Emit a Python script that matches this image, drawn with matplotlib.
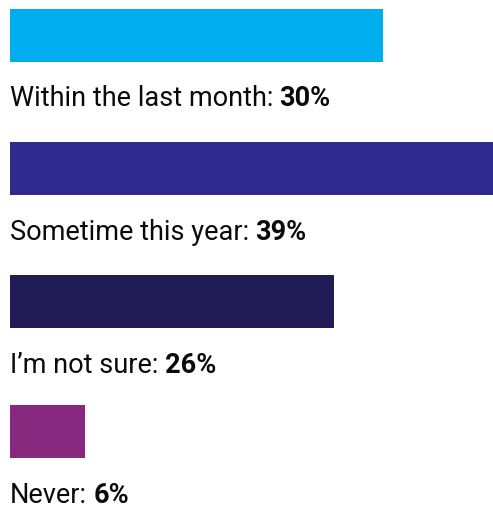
import matplotlib.pyplot as plt

# Data
labels = ["Within the last month:", "Sometime this year:", "I\u2019m not sure:", "Never:"]
values = [30, 39, 26, 6]
colors = ["#00AEEF", "#312A8E", "#221D57", "#87297F"]

plt.rcParams['font.family'] = ['Roboto', 'DejaVu Sans']

fig = plt.figure(figsize=(4.93, 5.08), dpi=100)
ax = fig.add_axes([10/493, 0, 1 - 10/493, 1])

pos = [0, 1.008, 2.013, 2.996]
ax.barh(pos, values, height=0.4, color=colors)

for i in range(len(values)):
    t = ax.text(0, pos[i] + 0.48, labels[i], fontsize=19.5, va='center', ha='left', color='#0a0a0a')
    ax.annotate(f"{values[i]}%", xy=(1, 0), xycoords=t, xytext=(4.5, 0),
                textcoords='offset points', va='bottom', ha='left',
                fontsize=19.5, fontweight='bold', color='#0a0a0a')

ax.set_xlim(0, 38.8)
ax.set_ylim(3.574, -0.2685)
ax.axis('off')

fig.savefig("out.png", dpi=100)
